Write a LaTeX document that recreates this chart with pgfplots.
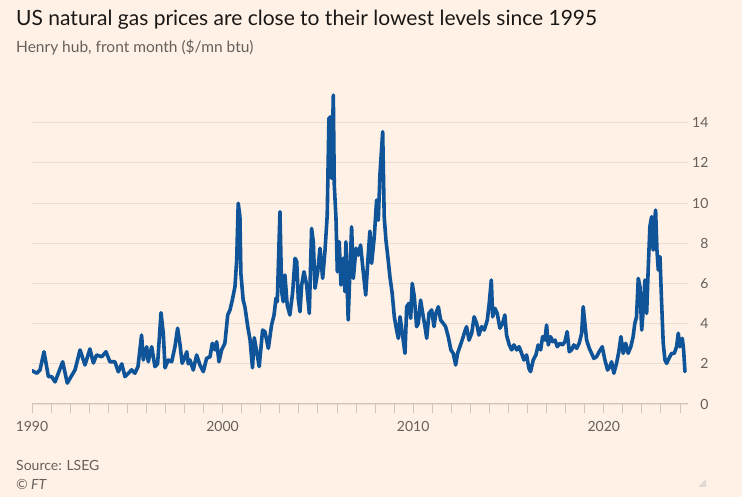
\documentclass[border=0pt]{standalone}
\usepackage{fontspec}
\setmainfont{Lato}
\usepackage{pgfplots}
\pgfplotsset{compat=1.18}
\usepackage{pgfplotstable}
\definecolor{bg}{HTML}{FFF1E5}
\definecolor{ftblue}{HTML}{0F5499}
\definecolor{gridc}{HTML}{EBDED1}
\definecolor{axc}{HTML}{CFC5BB}
\definecolor{txt}{HTML}{1A1817}
\definecolor{sub}{HTML}{66605C}

\pgfplotstableread{
x y
1990.00 1.66
1990.25 1.53
1990.42 1.69
1990.63 2.60
1990.86 1.36
1991.03 1.36
1991.21 1.10
1991.61 2.10
1991.85 1.04
1992.26 1.70
1992.52 2.69
1992.78 1.94
1993.04 2.74
1993.22 2.04
1993.39 2.44
1993.66 2.35
1993.88 2.60
1994.09 2.10
1994.35 2.10
1994.53 1.60
1994.71 2.00
1994.88 1.36
1995.23 1.70
1995.40 1.53
1995.56 1.86
1995.75 3.43
1995.84 2.19
1996.02 2.85
1996.10 2.10
1996.28 2.85
1996.45 1.86
1996.59 2.00
1996.77 4.54
1996.89 3.50
1996.98 1.80
1997.15 2.19
1997.33 2.10
1997.50 2.85
1997.64 3.77
1997.76 3.00
1997.88 2.02
1998.03 2.35
1998.12 2.60
1998.20 2.00
1998.29 2.19
1998.46 1.69
1998.64 2.44
1998.81 1.94
1998.99 1.61
1999.16 2.27
1999.34 2.35
1999.46 3.02
1999.60 2.69
1999.69 3.10
1999.81 2.10
1999.95 2.69
2000.12 3.02
2000.27 4.43
2000.39 4.68
2000.51 5.17
2000.65 5.84
2000.74 7.16
2000.82 9.99
2000.91 9.32
2000.96 6.50
2001.08 5.17
2001.17 4.84
2001.32 3.85
2001.44 3.20
2001.57 1.80
2001.66 3.30
2001.79 2.60
2001.92 1.86
2002.10 3.68
2002.22 3.60
2002.40 2.77
2002.57 3.93
2002.70 4.43
2002.80 5.26
2002.87 5.09
2003.01 9.57
2003.10 5.59
2003.18 5.09
2003.27 6.42
2003.39 4.93
2003.53 4.43
2003.68 5.59
2003.80 7.25
2003.89 7.08
2003.97 5.26
2004.06 4.59
2004.15 5.92
2004.27 6.58
2004.41 5.92
2004.55 4.51
2004.67 8.74
2004.76 8.07
2004.85 5.76
2004.99 6.58
2005.11 7.75
2005.25 6.25
2005.37 7.58
2005.49 9.40
2005.58 14.21
2005.67 14.29
2005.72 11.23
2005.81 15.37
2005.86 10.90
2005.95 9.24
2006.02 6.58
2006.12 8.07
2006.21 5.92
2006.33 7.25
2006.42 5.59
2006.47 8.07
2006.59 4.18
2006.68 6.58
2006.77 8.82
2006.86 6.25
2007.00 7.75
2007.12 7.41
2007.24 7.91
2007.38 6.58
2007.51 5.42
2007.64 7.40
2007.73 8.60
2007.82 7.00
2007.96 8.32
2008.08 10.15
2008.17 9.15
2008.26 11.48
2008.40 13.55
2008.48 9.32
2008.57 8.16
2008.69 7.16
2008.78 6.33
2008.90 5.50
2009.01 4.34
2009.13 3.68
2009.22 3.27
2009.31 4.34
2009.43 3.52
2009.57 2.52
2009.66 4.84
2009.78 5.01
2009.87 4.26
2009.95 6.00
2010.06 5.34
2010.18 3.85
2010.27 4.01
2010.39 5.17
2010.53 4.34
2010.62 3.85
2010.71 3.27
2010.83 4.51
2010.97 4.68
2011.09 3.85
2011.19 4.51
2011.32 4.84
2011.44 4.18
2011.58 4.01
2011.70 3.85
2011.84 3.35
2011.98 2.69
2012.10 2.52
2012.23 1.94
2012.33 2.52
2012.45 2.85
2012.57 3.18
2012.68 3.52
2012.80 3.85
2012.93 3.18
2013.07 3.52
2013.20 4.34
2013.33 4.01
2013.45 3.43
2013.59 3.85
2013.73 3.68
2013.89 4.18
2013.99 5.01
2014.10 6.17
2014.17 4.34
2014.29 4.76
2014.41 4.51
2014.55 3.77
2014.69 4.01
2014.81 4.43
2014.90 3.43
2015.04 2.94
2015.17 2.69
2015.29 2.94
2015.43 2.69
2015.56 2.85
2015.69 2.52
2015.81 2.19
2015.95 2.44
2016.07 1.78
2016.16 1.61
2016.30 2.19
2016.44 2.44
2016.56 2.94
2016.69 2.69
2016.79 3.35
2016.91 3.18
2017.00 3.93
2017.09 2.94
2017.21 3.35
2017.32 3.10
2017.44 3.18
2017.56 2.85
2017.70 3.02
2017.84 2.94
2017.96 3.10
2018.08 3.60
2018.19 2.60
2018.31 2.69
2018.43 2.94
2018.58 2.77
2018.71 3.02
2018.84 3.52
2018.92 4.84
2019.01 4.01
2019.10 3.18
2019.24 2.77
2019.36 2.52
2019.48 2.27
2019.62 2.35
2019.76 2.60
2019.92 2.85
2020.06 2.19
2020.20 1.69
2020.32 1.86
2020.41 2.10
2020.53 1.53
2020.67 2.02
2020.79 2.60
2020.90 3.35
2021.02 2.52
2021.15 3.02
2021.28 2.52
2021.42 2.85
2021.54 3.35
2021.63 4.01
2021.72 4.34
2021.81 6.25
2021.90 5.84
2021.99 3.68
2022.07 4.68
2022.16 6.17
2022.25 4.51
2022.33 6.67
2022.42 8.82
2022.51 9.32
2022.59 7.66
2022.65 8.99
2022.72 9.65
2022.79 7.66
2022.86 6.67
2022.95 7.33
2023.03 5.17
2023.12 3.02
2023.21 2.19
2023.30 2.02
2023.42 2.27
2023.56 2.52
2023.70 2.52
2023.82 2.85
2023.91 3.52
2023.99 2.85
2024.12 3.27
2024.19 2.69
2024.26 1.61
}\gasdata

\begin{document}
\begin{tikzpicture}
\fill[bg] (0pt,0pt) rectangle (742pt,497pt);
\node[anchor=base west, font=\fontsize{21}{24}\selectfont, text=txt, inner sep=0] at (16pt,471pt) {US natural gas prices are close to their lowest levels since 1995};
\node[anchor=base west, font=\fontsize{15.5}{18}\selectfont, text=sub, inner sep=0] at (16pt,444pt) {Henry hub, front month (\$/mn btu)};
\node[anchor=base west, font=\fontsize{14}{16}\selectfont, text=sub, inner sep=0] at (16pt,26pt) {Source: LSEG};
\node[anchor=base west, font=\itshape\fontsize{14}{16}\selectfont, text=sub, inner sep=0] at (16pt,7pt) {\textcopyright{} FT};
\fill[gridc!70!gray!60] (706pt,10pt) -- (706pt,18pt) -- (698pt,10pt) -- cycle;
\begin{axis}[
  at={(32pt,93pt)}, anchor=south west, scale only axis,
  width=656pt, height=311.5pt,
  xmin=1990, xmax=2024.42, ymin=0, ymax=15.5,
  separate axis lines,
  axis x line*=bottom, axis y line*=right,
  y axis line style={draw=none},
  x axis line style={axc, line width=1pt, -},
  xtick={1990,2000,2010,2020},
  minor xtick={1991,...,2024},
  tick align=outside,
  major tick length=9pt, minor tick length=9pt,
  xtick style={axc, line width=0.8pt},
  ytick={0,2,...,14},
  ytick style={draw=none},
  ymajorgrids, grid style={gridc, line width=0.9pt},
  /pgf/number format/assume math mode=true,
  xticklabel style={/pgf/number format/1000 sep={}, font=\fontsize{14}{16}\selectfont, text=sub, yshift=-5pt},
  yticklabel style={font=\fontsize{14}{16}\selectfont, text=sub, anchor=east, xshift=15pt},
]
\addplot[ftblue, line width=3.6pt, line join=round, line cap=round] table[x=x,y=y] {\gasdata};
\end{axis}
\end{tikzpicture}
\end{document}
